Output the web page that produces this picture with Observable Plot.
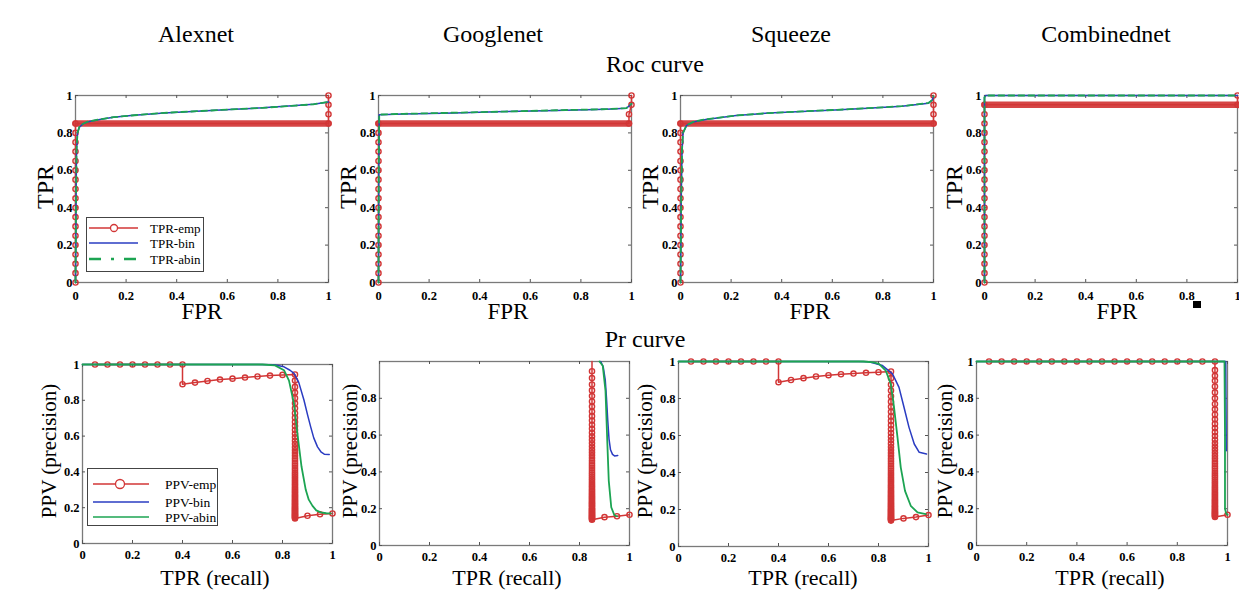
<!DOCTYPE html>
<html><head><meta charset="utf-8">
<script src="https://cdn.jsdelivr.net/npm/d3@7"></script>
<script src="https://cdn.jsdelivr.net/npm/@observablehq/plot@0.6"></script>
<style>
html,body{margin:0;padding:0;background:#fff;overflow:hidden}
#root{position:relative;width:1239px;height:595px;overflow:hidden;font-family:"Liberation Serif","Times New Roman",serif;color:#000;background:#fff}
#root svg, #root svg text{font-family:"Liberation Serif","Times New Roman",serif !important}
#root svg.pl text{font-weight:bold;font-size:12.5px}
.t{position:absolute;transform:translate(-50%,-50%);white-space:nowrap;line-height:0.7}
.rot{position:absolute;transform:translate(-50%,-50%) rotate(-90deg);white-space:nowrap;line-height:0.7}
</style></head><body><div id="root"></div>
<script>
// ---------------- data ----------------
const models = ["Alexnet", "Googlenet", "Squeeze", "Combinednet"];
const rowTitles = ["Roc curve", "Pr curve"];
const ticks6 = [0, 0.2, 0.4, 0.6, 0.8, 1];
const ticks5 = [0, 0.2, 0.4, 0.6, 0.8];

// ROC empirical: TPR markers along FPR = 0
const rocRise85 = [0, 0.05, 0.1, 0.15, 0.2, 0.25, 0.3, 0.35, 0.4, 0.45, 0.5, 0.55, 0.6, 0.65, 0.7, 0.75, 0.8, 0.85];
const rocRise95 = [0, 0.05, 0.1, 0.15, 0.2, 0.25, 0.3, 0.35, 0.4, 0.45, 0.5, 0.55, 0.6, 0.65, 0.7, 0.75, 0.8, 0.85, 0.9, 0.95];
// ROC empirical tail points [FPR, TPR]
const alexRocTail = [[1, 0.85], [1, 0.9], [1, 0.95], [1, 1]];
const googRocTail = [[0.99, 0.85], [0.99, 0.9], [1, 0.95], [1, 1]];
const sqzRocTail = [[1, 0.85], [1, 0.9], [1, 0.95], [1, 1]];
const combRocTail = [[1, 0.95], [1, 1]];
// dense plateau of empirical markers (TPR level, FPR end)
const rocPlateauTpr = [0.85, 0.85, 0.85, 0.95];
const rocPlateauEnd = [1, 0.99, 1, 1];

// ROC binormal fits [FPR, TPR]
const alexRocBin = [[0,0],[0.002,0.4],[0.004,0.7],[0.008,0.8],[0.015,0.83],[0.03,0.848],[0.05,0.86],[0.09,0.87],[0.15,0.884],[0.22,0.893],[0.35,0.907],[0.48,0.916],[0.61,0.925],[0.74,0.934],[0.87,0.947],[0.94,0.953],[1,0.965]];
const alexRocAbin = [[0,0],[0.002,0.42],[0.004,0.71],[0.008,0.8],[0.015,0.832],[0.03,0.849],[0.05,0.861],[0.09,0.871],[0.15,0.884],[0.22,0.893],[0.35,0.907],[0.48,0.916],[0.61,0.925],[0.74,0.934],[0.87,0.946],[0.94,0.953],[1,0.966]];
const googRocBin = [[0,0],[0.001,0.6],[0.003,0.897],[0.1,0.901],[0.3,0.907],[0.5,0.914],[0.7,0.92],[0.9,0.927],[0.98,0.932],[1,0.955]];
const googRocAbin = [[0,0],[0.001,0.62],[0.003,0.898],[0.1,0.902],[0.3,0.908],[0.5,0.914],[0.7,0.921],[0.9,0.927],[0.98,0.933],[1,0.956]];
const sqzRocBin = [[0,0],[0.003,0.45],[0.006,0.7],[0.01,0.8],[0.024,0.84],[0.05,0.858],[0.1,0.872],[0.22,0.893],[0.35,0.906],[0.48,0.915],[0.61,0.923],[0.74,0.932],[0.875,0.943],[0.98,0.959],[0.995,0.975],[1,0.995]];
const sqzRocAbin = [[0,0],[0.003,0.46],[0.006,0.71],[0.01,0.8],[0.024,0.841],[0.05,0.859],[0.1,0.873],[0.22,0.893],[0.35,0.906],[0.48,0.915],[0.61,0.923],[0.74,0.932],[0.875,0.943],[0.98,0.96],[0.995,0.976],[1,0.996]];
const combRocBin = [[0,0],[0,0.99],[0.005,1],[1,1]];
const combRocAbin = [[0,0],[0,0.99],[0.005,1],[1,1]];

// PR empirical [recall, precision]
const prTop8 = [0.05, 0.1, 0.15, 0.2, 0.25, 0.3, 0.35, 0.4];
const prTop19 = [0.05, 0.1, 0.15, 0.2, 0.25, 0.3, 0.35, 0.4, 0.45, 0.5, 0.55, 0.6, 0.65, 0.7, 0.75, 0.8, 0.85, 0.9, 0.95];
const alexPrMid = [[0.4,0.89],[0.45,0.899],[0.5,0.908],[0.55,0.916],[0.6,0.921],[0.65,0.927],[0.7,0.933],[0.75,0.938],[0.8,0.942],[0.85,0.944]];
const sqzPrMid = [[0.4,0.888],[0.45,0.9],[0.5,0.91],[0.55,0.919],[0.6,0.926],[0.65,0.931],[0.7,0.935],[0.75,0.939],[0.8,0.942],[0.85,0.946]];
const googPrLead = [[0.85, 1], [0.85, 0.947]];
// precision markers falling at a fixed recall
const prDrop85 = [0.91,0.875,0.843,0.812,0.783,0.755,0.728,0.703,0.679,0.656,0.634,0.613,0.593,0.574,0.556,0.538,0.521,0.505,0.49,0.475,0.461,0.447,0.434,0.421,0.409,0.397,0.386,0.375,0.364,0.354,0.344,0.334,0.325,0.316,0.307,0.299,0.291,0.283,0.275,0.268,0.261,0.254,0.247,0.24,0.234,0.228,0.222,0.216,0.21,0.204,0.199,0.194,0.189,0.184,0.179,0.174,0.169,0.165,0.16,0.156,0.152,0.148,0.144,0.14];
const prDrop95 = [0.953,0.922,0.895,0.864,0.832,0.8,0.769,0.74,0.712,0.686,0.661,0.638,0.616,0.595,0.575,0.556,0.538,0.521,0.504,0.488,0.473,0.458,0.444,0.431,0.418,0.405,0.393,0.381,0.37,0.359,0.348,0.338,0.328,0.318,0.309,0.3,0.291,0.282,0.274,0.266,0.258,0.25,0.243,0.236,0.229,0.222,0.215,0.209,0.203,0.197,0.191,0.185,0.18,0.175,0.17,0.165,0.16,0.155];
const alexPrTail = [[0.9,0.155],[0.95,0.163],[1,0.168]];
const googPrTail = [[0.9,0.154],[0.95,0.159],[1,0.167]];
const sqzPrTail = [[0.9,0.152],[0.95,0.159],[1,0.17]];
const combPrTail = [[1,0.167]];

// PR binormal fits [recall, precision]
const alexPrBin = [[0,1],[0.7,1],[0.766,0.998],[0.806,0.987],[0.83,0.968],[0.846,0.95],[0.865,0.9],[0.886,0.8],[0.9,0.72],[0.913,0.65],[0.925,0.59],[0.94,0.54],[0.955,0.51],[0.967,0.499],[0.987,0.497]];
const alexPrAbin = [[0,1],[0.72,1],[0.77,0.995],[0.806,0.968],[0.826,0.91],[0.846,0.78],[0.86,0.61],[0.876,0.43],[0.893,0.3],[0.905,0.245],[0.92,0.21],[0.935,0.185],[0.953,0.174],[0.975,0.169],[0.993,0.168]];
const googPrBin = [[0.885,1],[0.895,0.97],[0.903,0.9],[0.908,0.8],[0.913,0.68],[0.918,0.58],[0.924,0.52],[0.932,0.495],[0.94,0.487],[0.953,0.489]];
const googPrAbin = [[0.88,1],[0.893,0.977],[0.904,0.84],[0.911,0.57],[0.917,0.353],[0.927,0.208],[0.94,0.163],[0.95,0.159]];
const sqzPrBin = [[0,1],[0.72,1],[0.762,0.998],[0.816,0.978],[0.856,0.933],[0.882,0.86],[0.902,0.753],[0.922,0.644],[0.943,0.554],[0.963,0.509],[0.992,0.5]];
const sqzPrAbin = [[0,1],[0.74,1],[0.78,0.995],[0.802,0.987],[0.829,0.951],[0.849,0.88],[0.862,0.753],[0.876,0.59],[0.889,0.428],[0.906,0.301],[0.929,0.22],[0.956,0.184],[0.989,0.175]];
const combPrBin = [[0,1],[0.993,1],[0.995,0.515]];
const combPrAbin = [[0,1],[0.988,1],[0.99,0.6],[0.99,0.2],[0.995,0.172],[1,0.167]];

// ---------------- drawing ----------------
const RED = "#d23636", BLUE = "#2a3cc2", GREEN = "#1ca452";
const root = document.getElementById("root");

function text(cls, str, x, y, size) {
  const d = document.createElement("div");
  d.className = cls; d.textContent = str;
  d.style.left = x + "px"; d.style.top = y + "px"; d.style.fontSize = size + "px";
  root.appendChild(d);
}

function panel({fl, ft, fw, fh, xt, yt, pad, marks}) {
  const ml = 42, mr = 8, mt = 8, mb = 28;
  const kx = 3 / fw, ky = 3 / fh;
  const tickMarks = [
    Plot.ruleX(xt, {x: d => d, y1: 0, y2: ky, stroke: "#555"}),
    Plot.ruleX(xt, {x: d => d, y1: 1, y2: 1 - ky, stroke: "#555"}),
    Plot.ruleY(yt, {y: d => d, x1: 0, x2: kx, stroke: "#555"}),
    Plot.ruleY(yt, {y: d => d, x1: 1, x2: 1 - kx, stroke: "#555"})
  ];
  const svg = Plot.plot({
    width: fw + ml + mr, height: fh + mt + mb,
    marginLeft: ml, marginRight: mr, marginTop: mt, marginBottom: mb,
    style: {fontFamily: "Liberation Serif", fontSize: "12.5px", fontWeight: "bold", background: "transparent", overflow: "visible", color: "#000"},
    x: {domain: [0, 1], ticks: xt, tickSize: 0, tickPadding: pad, tickFormat: d => String(d), label: null},
    y: {domain: [0, 1], ticks: yt, tickSize: 0, tickPadding: 3, tickFormat: d => String(d), label: null},
    marks: [Plot.frame({stroke: "#7a7a7a", strokeWidth: 1.3}), ...tickMarks, ...marks]
  });
  svg.classList.add("pl");
  svg.style.position = "absolute";
  svg.style.left = (fl - ml) + "px";
  svg.style.top = (ft - mt) + "px";
  root.appendChild(svg);
}

const P = d => d[0], Q = d => d[1];

function empMarks(pts, lead = []) {
  const all = [...lead.map(([x, y]) => ({x, y, m: false})), ...pts];
  return [
    Plot.line(all, {x: "x", y: "y", stroke: RED, strokeWidth: 1.5}),
    Plot.dot(all.filter(d => d.m), {x: "x", y: "y", r: 2.6, stroke: RED, strokeWidth: 1.4, fill: "none"})
  ];
}

// ROC panels
const rocFrames = [[75, 95, 253, 187], [378, 95, 253, 187], [680, 95, 253, 187], [984, 95, 253, 187]];
const rocRises = [rocRise85, rocRise85, rocRise85, rocRise95];
const rocTails = [alexRocTail, googRocTail, sqzRocTail, combRocTail];
const rocBins = [alexRocBin, googRocBin, sqzRocBin, combRocBin];
const rocAbins = [alexRocAbin, googRocAbin, sqzRocAbin, combRocAbin];

rocFrames.forEach(([fl, ft, fw, fh], i) => {
  const pts = [...rocRises[i].map(t => ({x: 0, y: t, m: true})), ...rocTails[i].map(([x, y]) => ({x, y, m: true}))];
  const plateau = [[0, rocPlateauTpr[i]], [rocPlateauEnd[i], rocPlateauTpr[i]]];
  panel({fl, ft, fw, fh, xt: ticks6, yt: ticks6, pad: 9, marks: [
    Plot.line(plateau, {x: P, y: Q, stroke: RED, strokeWidth: 6.5, strokeOpacity: 0.92}),
    ...empMarks(pts),
    Plot.line(rocBins[i], {x: P, y: Q, stroke: BLUE, strokeWidth: 1.5}),
    Plot.line(rocAbins[i], {x: P, y: Q, stroke: GREEN, strokeWidth: 1.8, strokeDasharray: "6,4"})
  ]});
});

// PR panels
const prFrames = [[82, 364, 250, 179], [379, 361, 250, 184], [678, 361, 250, 185], [976, 361, 251, 184]];
const prYTicks = [ticks6, ticks5, ticks6, ticks6];
const prEmpPts = [
  [...prTop8.map(x => ({x, y: 1, m: true})), ...alexPrMid.map(([x, y]) => ({x, y, m: true})), ...prDrop85.map(y => ({x: 0.85, y, m: true})), ...alexPrTail.map(([x, y]) => ({x, y, m: true}))],
  [...googPrLead.slice(1).map(([x, y]) => ({x, y, m: true})), ...prDrop85.map(y => ({x: 0.85, y, m: true})), ...googPrTail.map(([x, y]) => ({x, y, m: true}))],
  [...prTop8.map(x => ({x, y: 1, m: true})), ...sqzPrMid.map(([x, y]) => ({x, y, m: true})), ...prDrop85.map(y => ({x: 0.85, y, m: true})), ...sqzPrTail.map(([x, y]) => ({x, y, m: true}))],
  [...prTop19.map(x => ({x, y: 1, m: true})), ...prDrop95.map(y => ({x: 0.95, y, m: true})), ...combPrTail.map(([x, y]) => ({x, y, m: true}))]
];
const prLeads = [[], googPrLead.slice(0, 1), [], []];
const prBins = [alexPrBin, googPrBin, sqzPrBin, combPrBin];
const prAbins = [alexPrAbin, googPrAbin, sqzPrAbin, combPrAbin];

prFrames.forEach(([fl, ft, fw, fh], i) => {
  panel({fl, ft, fw, fh, xt: ticks6, yt: prYTicks[i], pad: 7, marks: [
    ...empMarks(prEmpPts[i], prLeads[i]),
    Plot.line(prBins[i], {x: P, y: Q, stroke: BLUE, strokeWidth: 1.5}),
    Plot.line(prAbins[i], {x: P, y: Q, stroke: GREEN, strokeWidth: 1.8})
  ]});
});

// titles and axis labels
const titleX = [196, 493, 791, 1106];
models.forEach((m, i) => text("t", m, titleX[i], 34, 24));
text("t", rowTitles[0], 655, 64, 24);
text("t", rowTitles[1], 645, 339, 24);

const fprX = [202, 508, 810, 1117];
const tprRocX = [45, 348, 650, 954];
fprX.forEach((x, i) => text("t", "FPR", x, 312, 23));
tprRocX.forEach((x, i) => text("rot", "TPR", x, 187, 24));
const recallX = [215, 507, 803, 1110];
const ppvX = [49, 350, 645, 945];
recallX.forEach(x => text("t", "TPR (recall)", x, 578, 22));
ppvX.forEach(x => text("rot", "PPV (precision)", x, 451, 21));

// legends
function legend(x, y, w, h, rows, labels, swL, swR, cx, textX, fs, cr) {
  const ns = "http://www.w3.org/2000/svg";
  const div = document.createElement("div");
  div.style.cssText = `position:absolute;left:${x}px;top:${y}px;width:${w}px;height:${h}px;border:1px solid #444;background:#fff;box-sizing:border-box`;
  const svg = document.createElementNS(ns, "svg");
  svg.setAttribute("width", w); svg.setAttribute("height", h);
  svg.style.position = "absolute"; svg.style.left = "-1px"; svg.style.top = "-1px";
  const isRoc = labels[2].startsWith("TPR");
  const styles = [
    {stroke: RED, dash: null, sw: 1.5, circle: true},
    {stroke: BLUE, dash: null, sw: 1.6},
    {stroke: GREEN, dash: isRoc ? "12,10,3,10" : null, sw: isRoc ? 2.6 : 1.6}
  ];
  rows.forEach((ry, k) => {
    const s = styles[k];
    const l = document.createElementNS(ns, "line");
    l.setAttribute("x1", swL); l.setAttribute("x2", swR); l.setAttribute("y1", ry); l.setAttribute("y2", ry);
    l.setAttribute("stroke", s.stroke); l.setAttribute("stroke-width", s.sw);
    if (s.dash) l.setAttribute("stroke-dasharray", s.dash);
    svg.appendChild(l);
    if (s.circle) {
      const c = document.createElementNS(ns, "circle");
      c.setAttribute("cx", cx); c.setAttribute("cy", ry); c.setAttribute("r", cr);
      c.setAttribute("fill", "#fff"); c.setAttribute("stroke", RED); c.setAttribute("stroke-width", 1.3);
      svg.appendChild(c);
    }
    const t = document.createElementNS(ns, "text");
    t.setAttribute("x", textX); t.setAttribute("y", ry); t.setAttribute("dy", "0.35em");
    t.setAttribute("font-size", fs);
    t.textContent = labels[k];
    svg.appendChild(t);
  });
  div.appendChild(svg);
  root.appendChild(div);
}
const rocLegendLabels = ["TPR-emp", "TPR-bin", "TPR-abin"];
const prLegendLabels = ["PPV-emp", "PPV-bin", "PPV-abin"];
legend(86, 217, 118, 55, [11, 26, 42], rocLegendLabels, 3, 52, 28, 64, 13, 3.5);
legend(87, 468, 131, 58, [16, 34, 49], prLegendLabels, 6, 62, 33, 78, 13.5, 4.5);

// small black square artifact present in the source figure
const sq = document.createElement("div");
sq.style.cssText = "position:absolute;left:1193px;top:301px;width:8px;height:7px;background:#000";
root.appendChild(sq);
</script></body></html>
